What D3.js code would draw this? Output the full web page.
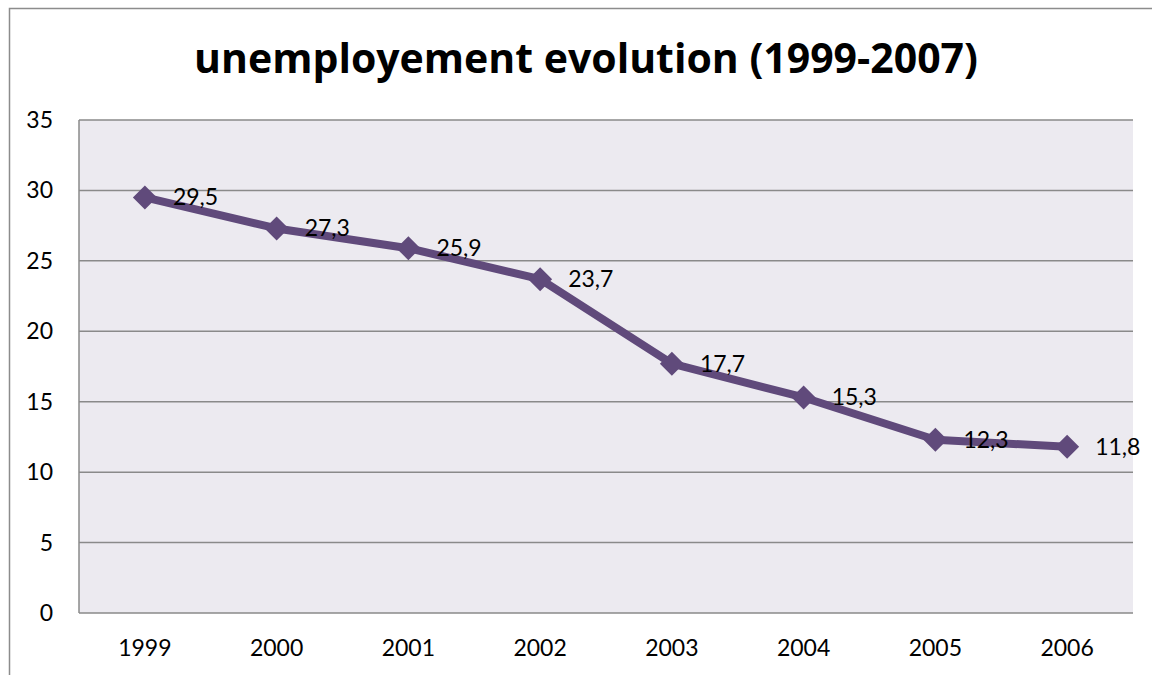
<!DOCTYPE html>
<html>
<meta charset="utf-8">
<style>
body { margin:0; background:#fff; }
text { font-family: Lato, "Open Sans", sans-serif; fill:#000; }
</style>
<body>
<script src="https://cdn.jsdelivr.net/npm/d3@7"></script>
<script>

var years = ["1999","2000","2001","2002","2003","2004","2005","2006"];
var rates = [29.5, 27.3, 25.9, 23.7, 17.7, 15.3, 12.3, 11.8];
var yTicks = [0,5,10,15,20,25,30,35];

var W = 1152, H = 675;
var svg = d3.select("body").append("svg").attr("width", W).attr("height", H);

// chart frame
svg.append("rect").attr("x",9.5).attr("y",8.5).attr("width",1160).attr("height",700)
	.attr("fill","#fff").attr("stroke","#8c8c8c").attr("stroke-width",1.5);

svg.append("text").attr("x",586).attr("y",73).attr("text-anchor","middle")
	.style("font-family","'Open Sans', sans-serif")
	.style("font-size","41px").style("font-weight","bold")
	.text("unemployement evolution (1999-2007)");

var pLeft = 79, pRight = 1133, pTop = 120, pBottom = 613;

var x = d3.scaleBand().domain(years).range([pLeft,pRight]);
var y = d3.scaleLinear().domain([0,35]).range([pBottom,pTop]);

svg.append("rect").attr("x",pLeft).attr("y",pTop).attr("width",pRight-pLeft).attr("height",pBottom-pTop)
	.attr("fill","#ECEAF0");

svg.append("g").selectAll("line").data(yTicks).join("line")
	.attr("x1",pLeft).attr("x2",pRight)
	.attr("y1",d=>y(d)).attr("y2",d=>y(d))
	.attr("stroke","#8a8a8a").attr("stroke-width",1.5);

svg.append("line").attr("x1",pLeft).attr("x2",pLeft).attr("y1",pTop).attr("y2",pBottom)
	.attr("stroke","#8a8a8a").attr("stroke-width",1.5);

svg.append("g").selectAll("text").data(yTicks).join("text")
	.attr("x",53).attr("y",d=>y(d)+8).attr("text-anchor","end")
	.style("font-size","23px").text(d=>d);

svg.append("g").selectAll("text").data(years).join("text")
	.attr("x",d=>x(d)+x.bandwidth()/2).attr("y",656).attr("text-anchor","middle")
	.style("font-size","23px").text(d=>d);

var pts = years.map((yr,i)=>({yr:yr, v:rates[i]}));
var cx = d=>x(d.yr)+x.bandwidth()/2;

svg.append("path").datum(pts)
	.attr("d", d3.line().x(cx).y(d=>y(d.v)))
	.attr("fill","none").attr("stroke","#604A7B").attr("stroke-width",8).attr("stroke-linejoin","round");

svg.append("g").selectAll("path").data(pts).join("path")
	.attr("transform",d=>"translate("+cx(d)+","+y(d.v)+")")
	.attr("d","M0,-12L12,0L0,12L-12,0Z")
	.attr("fill","#604A7B");

svg.append("g").selectAll("text").data(pts).join("text")
	.attr("x",d=>cx(d)+28).attr("y",d=>y(d.v)+8)
	.style("font-size","23px")
	.text(d=>String(d.v).replace(".",","));

</script>
</body>
</html>
